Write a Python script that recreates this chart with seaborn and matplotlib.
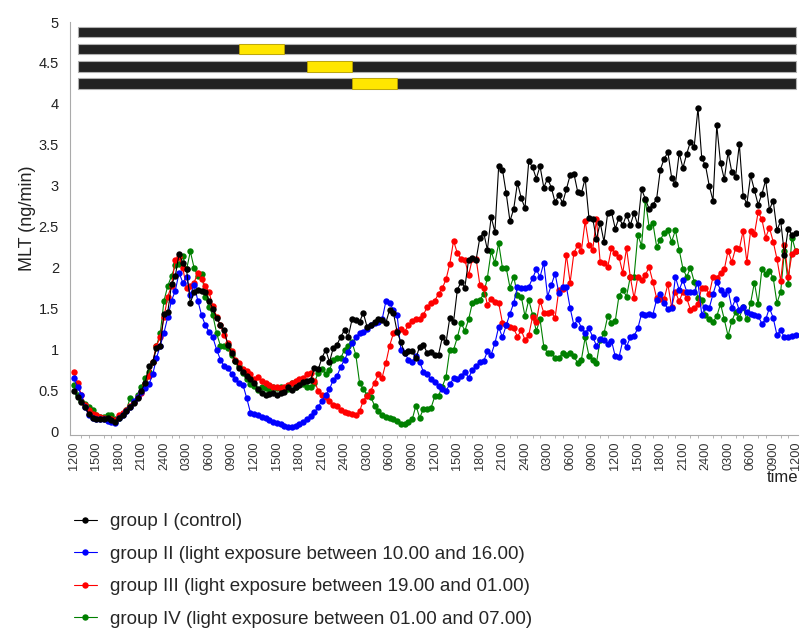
import numpy as np
import pandas as pd
import matplotlib
matplotlib.use("Agg")
import matplotlib.pyplot as plt
import seaborn as sns

# sampling every 30 min, starting at 12.00 on day 1 (hours since start)
hours = np.arange(0, 96.5, 0.5)

# group I (control)
group_1 = [
    0.50, 0.42, 0.36, 0.30, 0.22, 0.17,
    0.16, 0.15, 0.16, 0.17, 0.14, 0.12,
    0.17, 0.20, 0.25, 0.30, 0.35, 0.41,
    0.50, 0.60, 0.80, 0.85, 1.02, 1.05,
    1.44, 1.46, 1.80, 1.90, 2.17, 2.06,
    1.98, 1.57, 1.71, 1.73, 1.72, 1.71,
    1.60, 1.50, 1.39, 1.30, 1.24, 1.06,
    0.96, 0.86, 0.78, 0.73, 0.68, 0.64,
    0.60, 0.52, 0.47, 0.45, 0.46, 0.47,
    0.45, 0.47, 0.48, 0.54, 0.51, 0.55,
    0.57, 0.61, 0.62, 0.63, 0.78, 0.76,
    0.90, 1.00, 0.85, 1.02, 1.06, 1.16,
    1.24, 1.16, 1.37, 1.36, 1.34, 1.45,
    1.28, 1.30, 1.34, 1.37, 1.36, 1.33,
    1.49, 1.45, 1.22, 1.09, 0.96, 0.98,
    0.98, 0.90, 1.04, 1.06, 0.96, 0.97,
    0.94, 0.94, 1.15, 1.09, 1.39, 1.34,
    1.73, 1.83, 1.76, 2.10, 2.12, 2.10,
    2.37, 2.43, 2.22, 2.62, 2.44, 3.24,
    3.20, 2.91, 2.57, 2.72, 3.04, 2.85,
    2.73, 3.30, 3.23, 3.09, 3.24, 2.98,
    3.09, 2.98, 2.80, 2.89, 2.79, 2.96,
    3.13, 3.15, 2.93, 2.91, 3.09, 2.61,
    2.60, 2.35, 2.55, 2.32, 2.67, 2.68,
    2.48, 2.61, 2.52, 2.65, 2.52, 2.67,
    2.52, 2.96, 2.84, 2.72, 2.77, 2.84,
    3.20, 3.33, 3.41, 3.10, 3.02, 3.40,
    3.22, 3.39, 3.54, 3.48, 3.95, 3.34,
    3.25, 3.00, 2.82, 3.74, 3.28, 3.08,
    3.41, 3.17, 3.11, 3.51, 2.88, 2.78,
    3.13, 2.95, 2.77, 2.90, 3.07, 2.71,
    2.82, 2.46, 2.57, 2.16, 2.48, 2.40,
    2.42,
]

# group II (light 10.00-16.00)
group_2 = [
    0.65, 0.55, 0.45, 0.30, 0.20, 0.17,
    0.16, 0.15, 0.15, 0.13, 0.12, 0.11,
    0.17, 0.20, 0.25, 0.30, 0.37, 0.42,
    0.48, 0.53, 0.58, 0.70, 0.90, 1.05,
    1.21, 1.40, 1.60, 1.72, 1.94, 1.82,
    1.89, 1.67, 1.79, 1.60, 1.42, 1.30,
    1.22, 1.15, 1.00, 0.88, 0.80, 0.78,
    0.70, 0.64, 0.60, 0.57, 0.41, 0.23,
    0.22, 0.20, 0.18, 0.17, 0.14, 0.12,
    0.11, 0.09, 0.07, 0.06, 0.06, 0.07,
    0.09, 0.12, 0.15, 0.19, 0.24, 0.30,
    0.38, 0.45, 0.52, 0.63, 0.68, 0.79,
    0.88, 0.97, 1.08, 1.15, 1.20, 1.22,
    1.25, 1.30, 1.33, 1.34, 1.37, 1.59,
    1.57, 1.49, 1.42, 1.00, 0.96, 0.88,
    0.85, 0.92, 0.85, 0.73, 0.70, 0.64,
    0.61, 0.56, 0.52, 0.50, 0.58, 0.65,
    0.64, 0.68, 0.73, 0.66, 0.75, 0.80,
    0.85, 0.86, 0.98, 0.94, 1.08, 1.28,
    1.15, 1.30, 1.44, 1.57, 1.77, 1.75,
    1.76, 1.77, 1.87, 1.98, 1.89, 2.06,
    1.65, 1.79, 1.93, 1.69, 1.77, 1.77,
    1.51, 1.30, 1.37, 1.27, 1.21, 1.26,
    1.16, 1.05, 1.13, 1.12, 1.07, 1.11,
    0.92, 0.91, 1.11, 1.04, 1.15, 1.17,
    1.26, 1.44, 1.43, 1.44, 1.43, 1.61,
    1.68, 1.57, 1.50, 1.51, 1.89, 1.73,
    1.85, 1.71, 1.71, 1.71, 1.82, 1.43,
    1.52, 1.51, 1.68, 1.83, 1.73, 1.68,
    1.73, 1.51, 1.62, 1.48, 1.52, 1.46,
    1.44, 1.43, 1.41, 1.32, 1.37, 1.51,
    1.39, 1.18, 1.24, 1.15, 1.15, 1.17,
    1.18,
]

# group III (light 19.00-01.00)
group_3 = [
    0.73, 0.60, 0.45, 0.33, 0.27, 0.22,
    0.20, 0.18, 0.17, 0.16, 0.16, 0.14,
    0.21, 0.23, 0.27, 0.32, 0.36, 0.42,
    0.47, 0.58, 0.68, 0.85, 1.05, 1.15,
    1.40, 1.65, 1.78, 2.10, 2.13, 2.00,
    1.75, 1.78, 1.82, 1.94, 1.86, 1.78,
    1.70, 1.53, 1.40, 1.30, 1.18, 1.08,
    0.98, 0.88, 0.84, 0.76, 0.74, 0.70,
    0.64, 0.67, 0.62, 0.60, 0.57, 0.55,
    0.54, 0.53, 0.55, 0.57, 0.60, 0.62,
    0.64, 0.66, 0.70, 0.72, 0.62, 0.50,
    0.45, 0.42, 0.38, 0.33, 0.31, 0.26,
    0.24, 0.23, 0.22, 0.20, 0.25, 0.38,
    0.44, 0.50, 0.60, 0.70, 0.66, 0.84,
    1.05, 1.20, 1.23, 1.25, 1.22, 1.30,
    1.35, 1.37, 1.38, 1.43, 1.52, 1.57,
    1.60, 1.68, 1.75, 1.86, 2.05, 2.33,
    2.18, 2.11, 2.10, 1.91, 2.11, 2.11,
    1.79, 1.76, 1.55, 1.62, 1.58, 1.57,
    1.33, 1.30, 1.28, 1.26, 1.16, 1.24,
    1.12, 1.18, 1.40, 1.34, 1.60, 1.45,
    1.45, 1.46, 1.39, 1.73, 1.74, 2.16,
    1.82, 2.18, 2.28, 2.21, 2.57, 2.28,
    2.22, 2.59, 2.07, 2.06, 2.01, 2.24,
    2.18, 2.13, 1.94, 2.24, 1.89, 1.63,
    1.89, 1.85, 1.91, 2.01, 1.83, 1.63,
    1.62, 1.62, 1.80, 1.52, 1.71, 1.59,
    1.71, 1.63, 1.49, 1.51, 1.56, 1.76,
    1.76, 1.68, 1.89, 1.88, 1.94, 1.98,
    2.21, 2.07, 2.24, 2.23, 2.45, 2.07,
    2.45, 2.41, 2.68, 2.59, 2.37, 2.49,
    2.32, 2.11, 1.84, 2.28, 1.89, 2.17,
    2.20,
]

# group IV (light 01.00-07.00)
group_4 = [
    0.57, 0.45, 0.38, 0.34, 0.30, 0.26,
    0.20, 0.18, 0.18, 0.20, 0.21, 0.15,
    0.17, 0.22, 0.27, 0.41, 0.36, 0.45,
    0.55, 0.65, 0.73, 0.85, 1.05, 1.20,
    1.60, 1.78, 1.90, 2.03, 2.05, 2.14,
    1.98, 2.20, 2.00, 1.90, 1.93, 1.65,
    1.52, 1.42, 1.20, 1.05, 1.05, 1.02,
    0.94, 0.86, 0.80, 0.72, 0.64, 0.58,
    0.56, 0.51, 0.54, 0.53, 0.52, 0.54,
    0.53, 0.54, 0.53, 0.52, 0.60, 0.54,
    0.62, 0.58, 0.55, 0.54, 0.60, 0.72,
    0.77, 0.70, 0.75, 0.88, 0.90, 0.90,
    1.00, 1.05, 1.09, 0.94, 0.60, 0.52,
    0.45, 0.42, 0.32, 0.25, 0.21, 0.18,
    0.17, 0.16, 0.13, 0.10, 0.10, 0.12,
    0.15, 0.32, 0.17, 0.28, 0.28, 0.29,
    0.43, 0.44, 0.55, 0.67, 1.00, 1.00,
    1.15, 1.33, 1.23, 1.37, 1.57, 1.59,
    1.61, 1.68, 1.88, 2.20, 2.06, 2.30,
    2.00, 2.00, 1.76, 1.89, 1.67, 1.65,
    1.41, 1.61, 1.43, 1.23, 1.37, 1.04,
    0.96, 0.96, 0.90, 0.90, 0.96, 0.94,
    0.96, 0.92, 0.84, 0.88, 1.15, 0.93,
    0.88, 0.84, 1.12, 1.20, 1.41, 1.33,
    1.35, 1.66, 1.73, 1.65, 1.89, 1.89,
    2.40, 2.27, 2.83, 2.50, 2.55, 2.26,
    2.34, 2.43, 2.46, 2.32, 2.46, 2.22,
    1.99, 1.89, 2.00, 1.83, 1.63, 1.61,
    1.43, 1.37, 1.34, 1.41, 1.56, 1.37,
    1.17, 1.35, 1.46, 1.39, 1.52, 1.37,
    1.57, 1.82, 1.56, 1.99, 1.93, 1.96,
    1.88, 1.57, 1.71, 2.21, 1.80, 2.37,
    2.20,
]

group_labels = [
    "group I (control)",
    "group II (light exposure between 10.00 and 16.00)",
    "group III (light exposure between 19.00 and 01.00)",
    "group IV (light exposure between 01.00 and 07.00)",
]
group_colors = ["#000000", "#0000ff", "#ff0000", "#008000"]

# light exposure windows (hours since start) for each group's bar
light_start = [None, 22, 31, 37]
light_end = [None, 28, 37, 43]

tick_hours = np.arange(0, 97, 3)
tick_labels = ["1200", "1500", "1800", "2100", "2400", "0300", "0600", "0900"] * 4 + ["1200"]

sns.set_style("white")
plt.rcParams["font.family"] = ["Liberation Sans", "DejaVu Sans"]

fig = plt.figure(figsize=(8.01, 6.28), dpi=100)
ax = fig.add_axes([70 / 801, 1 - 435 / 628, 728 / 801, 413 / 628])

series = [group_1, group_2, group_3, group_4]
# draw group IV first so the control group ends up on top
line_handles = {}
for vals, lab, col in reversed(list(zip(series, group_labels, group_colors))):
    sns.lineplot(x=hours, y=vals, color=col, marker="o", markersize=4.6,
                 markeredgewidth=0, linewidth=0.8, label=lab, ax=ax)
    line_handles[lab] = ax.get_lines()[-1]

# lighting schedule bars at the top
bar_y = [4.88, 4.67, 4.46, 4.25]
for i, y in enumerate(bar_y):
    ax.barh(y, 95.5, left=0.6, height=0.13, color="#222222",
            edgecolor="#b0b0b0", linewidth=0.8)
    if light_start[i] is not None:
        ax.barh(y, light_end[i] - light_start[i], left=light_start[i], height=0.13,
                color="#ffe600", edgecolor="#b8a000", linewidth=0.6)

ax.set_xlim(-0.5, 96.3)
ax.set_ylim(-0.04, 5.0)
ax.set_xticks(tick_hours)
ax.set_xticklabels(tick_labels, rotation=90, fontsize=9.2, color="#333333")
ax.set_xticks(np.arange(0, 97, 1), minor=True)
ax.set_yticks(np.arange(0, 5.01, 0.5))
ax.set_yticklabels(["0", "0.5", "1", "1.5", "2", "2.5", "3", "3.5", "4", "4.5", "5"],
                   fontsize=10.5, color="#222222")
ax.tick_params(axis="x", which="major", length=4, width=0.8, color="#aaaaaa", pad=1)
ax.tick_params(axis="x", which="minor", length=2.5, width=0.6, color="#aaaaaa", bottom=True)
ax.tick_params(axis="y", length=4, width=0.8, color="#aaaaaa", pad=4)

for side in ["top", "right"]:
    ax.spines[side].set_visible(False)
for side in ["left", "bottom"]:
    ax.spines[side].set_color("#aaaaaa")
    ax.spines[side].set_linewidth(0.8)

ax.set_ylabel("MLT (ng/min)", fontsize=13, color="#222222")
ax.yaxis.set_label_coords(-0.047, 0.525)
ax.set_xlabel("")
fig.text(798 / 801, 1 - 470 / 628, "time", ha="right", va="top",
         fontsize=12, color="#222222")

if ax.get_legend() is not None:
    ax.get_legend().remove()
handles = [line_handles[lab] for lab in group_labels]
fig.legend(handles, group_labels, loc="upper left", bbox_to_anchor=(74 / 801, 1 - 513 / 628),
           frameon=False, fontsize=13.5, handlelength=1.2, handletextpad=0.7,
           labelspacing=0.82, borderpad=0, borderaxespad=0, markerscale=1.0)

fig.savefig("out.png", dpi=100)
